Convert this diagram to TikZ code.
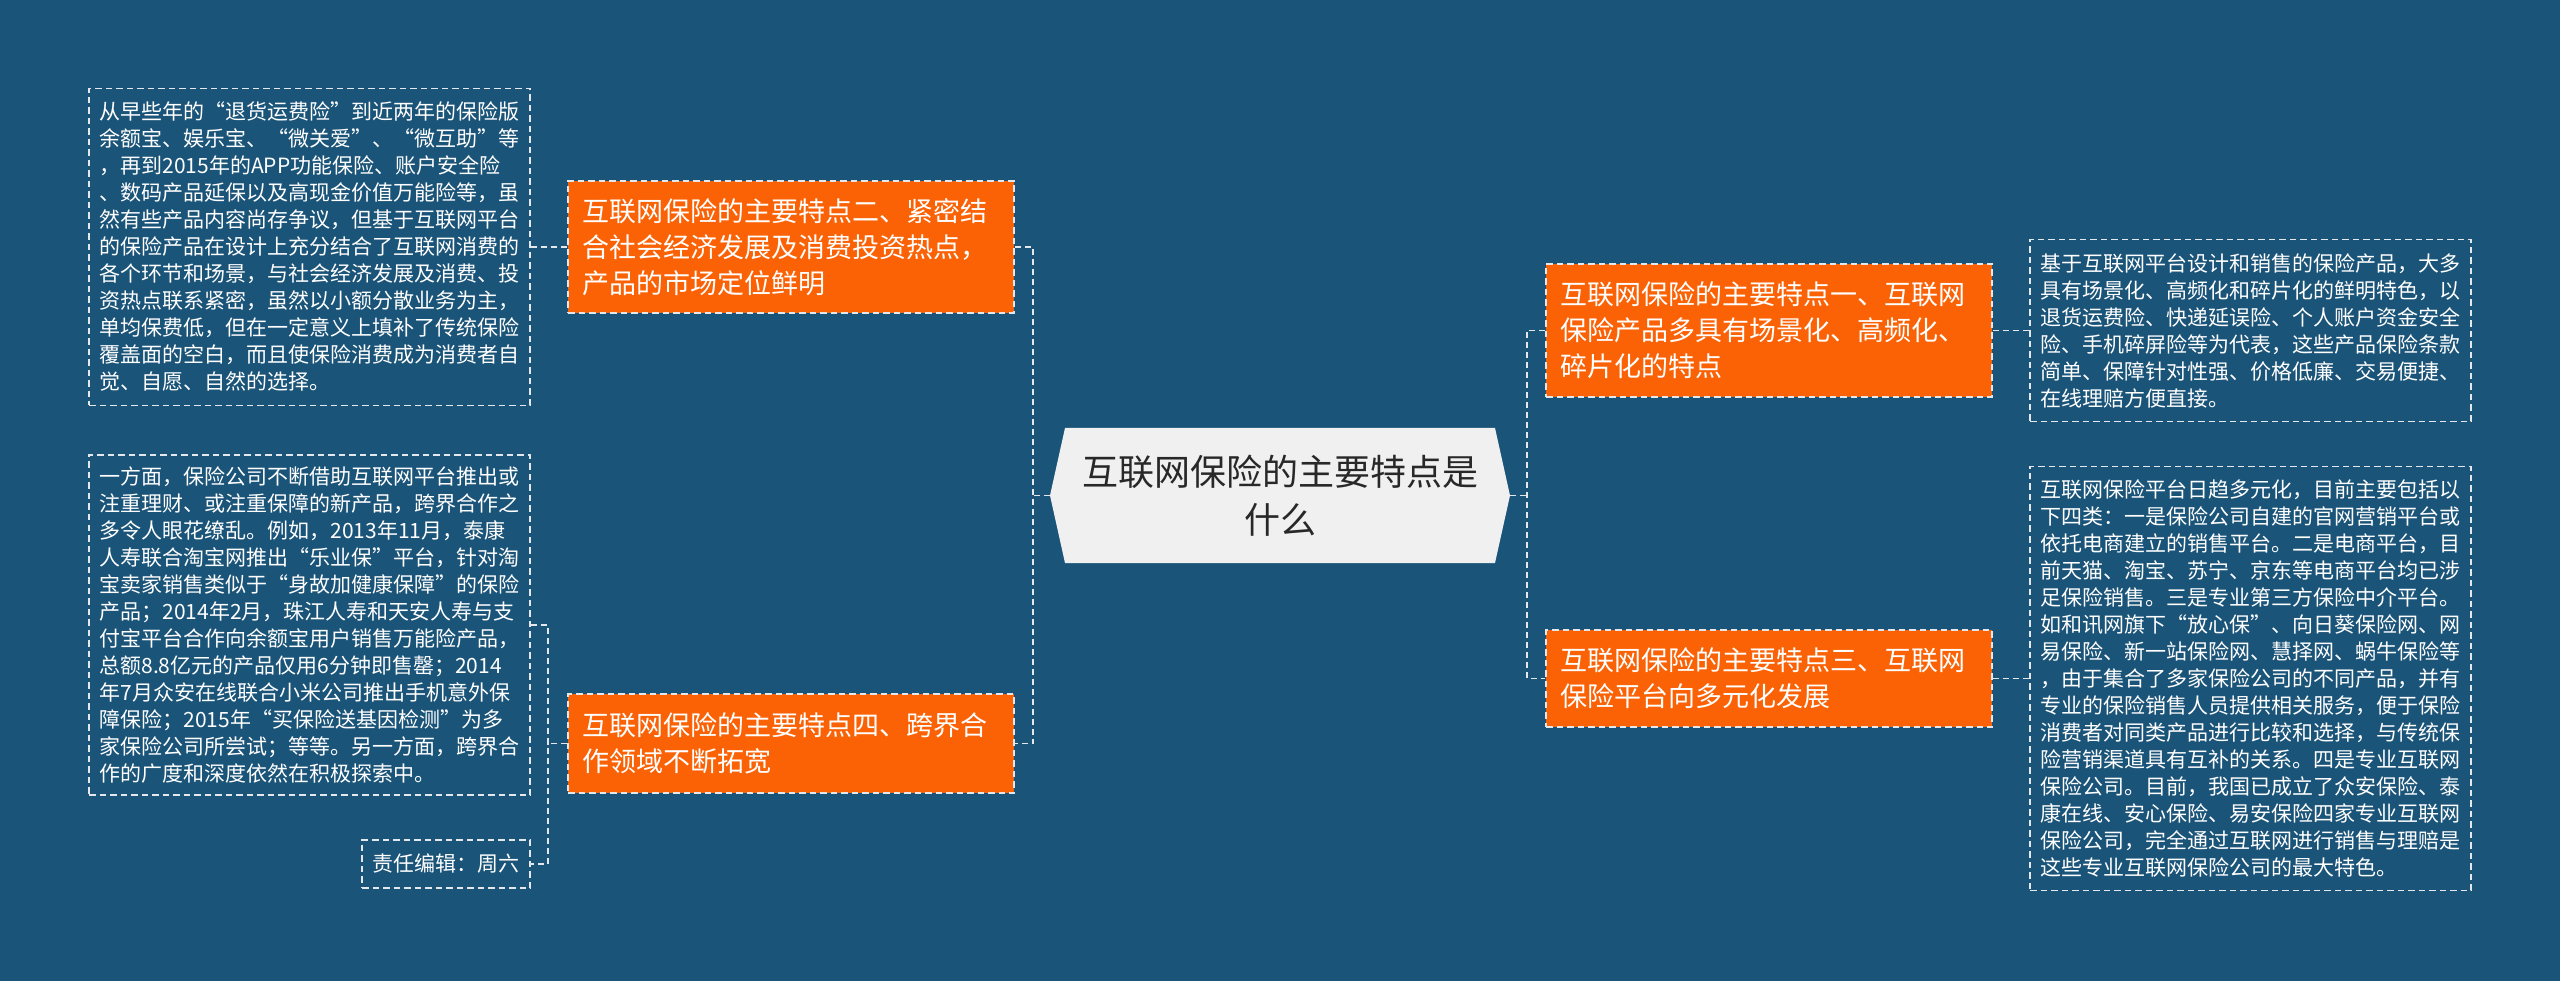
\documentclass[tikz,border=0pt]{standalone}
\usepackage{fontspec}
\setmainfont{Noto Sans CJK SC}
\definecolor{bg}{RGB}{27,84,121}
\definecolor{org}{RGB}{250,98,5}
\definecolor{hubfill}{RGB}{240,240,240}
\definecolor{ln}{RGB}{228,232,236}
\definecolor{hubtext}{RGB}{40,40,40}
\begin{document}
\begin{tikzpicture}[x=1pt,y=-1pt,
  conn/.style={draw=ln, line width=1.5pt, dash pattern=on 6pt off 4pt},
  boxline/.style={draw=ln, line width=1.2pt, dash pattern=on 6.5pt off 4pt},
  leaf/.style={boxline, text=white, font=\fontsize{21}{27}\selectfont, align=left,
    inner xsep=10.5pt, inner ysep=0pt, text width=420pt, minimum width=441pt},
  editor/.style={boxline, text=white, font=\fontsize{21}{27}\selectfont,
    inner xsep=10.5pt, inner ysep=0pt, minimum width=168pt, minimum height=48pt},
  branch/.style={boxline, fill=org, text=white, font=\fontsize{27}{36}\selectfont, align=left,
    inner xsep=14pt, inner ysep=0pt, text width=418pt, minimum width=446pt},
  hubnode/.style={fill=bg, text=hubtext, font=\fontsize{36}{48}\selectfont, align=center,
    inner xsep=10pt, inner ysep=0pt, text width=440pt, minimum width=460pt, minimum height=135pt,
    path picture={\fill[hubfill] (path picture bounding box.west)
      -- ([xshift=15pt]path picture bounding box.north west)
      -- ([xshift=-15pt]path picture bounding box.north east)
      -- (path picture bounding box.east)
      -- ([xshift=-15pt]path picture bounding box.south east)
      -- ([xshift=15pt]path picture bounding box.south west) -- cycle;}}
]
\fill[bg] (0,0) rectangle (2560,981);
\useasboundingbox (0,0) rectangle (2560,981);

% hub
\node[hubnode] (hub) at (1280,495.5) {互联网保险的主要特点是\\什么};

% left branches
\node[branch, minimum height=132pt] (b2) at (791,247) {互联网保险的主要特点二、紧密结\\%
合社会经济发展及消费投资热点，\\%
产品的市场定位鲜明};
\node[branch, minimum height=99pt] (b4) at (791,743.5) {互联网保险的主要特点四、跨界合\\%
作领域不断拓宽};

% right branches
\node[branch, minimum height=133pt] (b1) at (1769,330.5) {互联网保险的主要特点一、互联网\\%
保险产品多具有场景化、高频化、\\%
碎片化的特点};
\node[branch, minimum height=97pt] (b3) at (1769,678.5) {互联网保险的主要特点三、互联网\\%
保险平台向多元化发展};

% left leaves
\node[leaf, minimum height=317pt] (l1) at (309.5,247) {从早些年的“退货运费险”到近两年的保险版\\%
余额宝、娱乐宝、“微关爱”、“微互助”等\\%
，再到2015年的APP功能保险、账户安全险\\%
、数码产品延保以及高现金价值万能险等，虽\\%
然有些产品内容尚存争议，但基于互联网平台\\%
的保险产品在设计上充分结合了互联网消费的\\%
各个环节和场景，与社会经济发展及消费、投\\%
资热点联系紧密，虽然以小额分散业务为主，\\%
单均保费低，但在一定意义上填补了传统保险\\%
覆盖面的空白，而且使保险消费成为消费者自\\%
觉、自愿、自然的选择。};
\node[leaf, minimum height=340pt] (l2) at (309.5,625) {一方面，保险公司不断借助互联网平台推出或\\%
注重理财、或注重保障的新产品，跨界合作之\\%
多令人眼花缭乱。例如，2013年11月，泰康\\%
人寿联合淘宝网推出“乐业保”平台，针对淘\\%
宝卖家销售类似于“身故加健康保障”的保险\\%
产品；2014年2月，珠江人寿和天安人寿与支\\%
付宝平台合作向余额宝用户销售万能险产品，\\%
总额8.8亿元的产品仅用6分钟即售罄；2014\\%
年7月众安在线联合小米公司推出手机意外保\\%
障保险；2015年“买保险送基因检测”为多\\%
家保险公司所尝试；等等。另一方面，跨界合\\%
作的广度和深度依然在积极探索中。};
\node[editor] (ed) at (446,864) {责任编辑：周六};

% right leaves
\node[leaf, minimum height=182pt] (r1) at (2250.5,330.5) {基于互联网平台设计和销售的保险产品，大多\\%
具有场景化、高频化和碎片化的鲜明特色，以\\%
退货运费险、快递延误险、个人账户资金安全\\%
险、手机碎屏险等为代表，这些产品保险条款\\%
简单、保障针对性强、价格低廉、交易便捷、\\%
在线理赔方便直接。};
\node[leaf, minimum height=424pt] (r2) at (2250.5,678.5) {互联网保险平台日趋多元化，目前主要包括以\\%
下四类：一是保险公司自建的官网营销平台或\\%
依托电商建立的销售平台。二是电商平台，目\\%
前天猫、淘宝、苏宁、京东等电商平台均已涉\\%
足保险销售。三是专业第三方保险中介平台。\\%
如和讯网旗下“放心保”、向日葵保险网、网\\%
易保险、新一站保险网、慧择网、蜗牛保险等\\%
，由于集合了多家保险公司的不同产品，并有\\%
专业的保险销售人员提供相关服务，便于保险\\%
消费者对同类产品进行比较和选择，与传统保\\%
险营销渠道具有互补的关系。四是专业互联网\\%
保险公司。目前，我国已成立了众安保险、泰\\%
康在线、安心保险、易安保险四家专业互联网\\%
保险公司，完全通过互联网进行销售与理赔是\\%
这些专业互联网保险公司的最大特色。};

% spine coordinates
\coordinate (sl) at (1033,495.5);
\coordinate (sr) at (1527,495.5);
\coordinate (sl2) at (548,743.5);

% connectors
\draw[conn] (hub.west) -- (sl);
\draw[conn] (b2.east) -| (sl) |- (b4.east);
\draw[conn] (hub.east) -- (sr);
\draw[conn] (b1.west) -| (sr) |- (b3.west);
\draw[conn] (b1.east) -- (r1.west);
\draw[conn] (b3.east) -- (r2.west);
\draw[conn] (b2.west) -- (l1.east);
\draw[conn] (b4.west) -- (sl2);
\draw[conn] (l2.east) -| (sl2) |- (ed.east);
\end{tikzpicture}
\end{document}
